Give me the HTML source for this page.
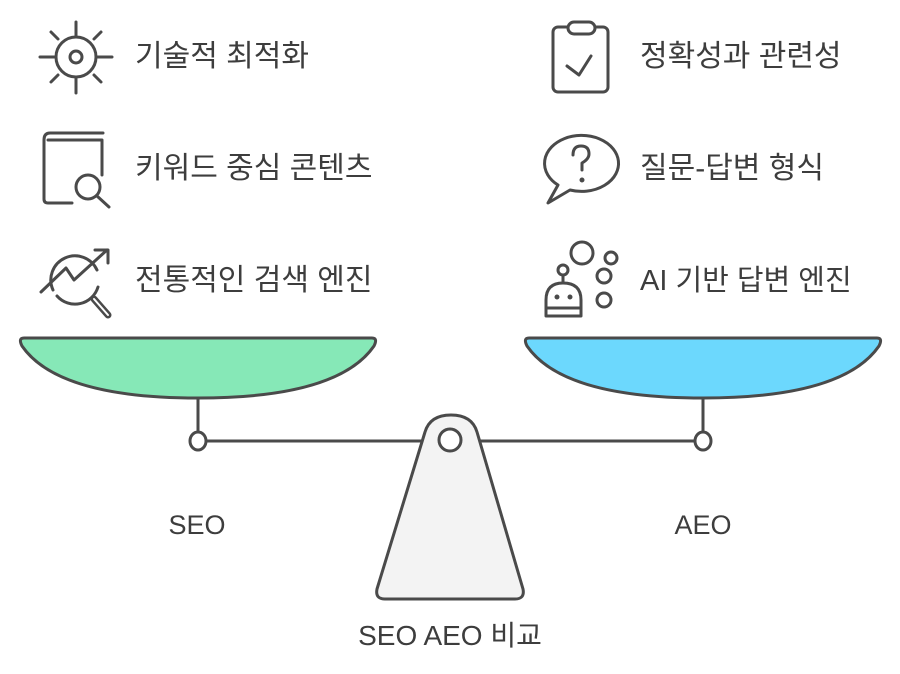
<!DOCTYPE html>
<html><head><meta charset="utf-8"><style>
body{margin:0;background:#fff;width:900px;height:674px;overflow:hidden}
svg{display:block}
text{font-family:"Liberation Sans","Noto Sans CJK KR",sans-serif;fill:#3d3d3d}
</style></head><body>
<svg width="900" height="674" viewBox="0 0 900 674">
<g fill="none" stroke="#4a4a4a" stroke-width="3" stroke-linecap="round" stroke-linejoin="round">
<!-- gear -->
<circle cx="76" cy="57" r="20"/><circle cx="76" cy="57" r="6"/>
<line x1="76" y1="22" x2="76" y2="37"/><line x1="76" y1="77" x2="76" y2="93"/>
<line x1="40" y1="57" x2="56" y2="57"/><line x1="96" y1="57" x2="112" y2="57"/>
<line x1="51" y1="32" x2="58" y2="39"/><line x1="94" y1="75" x2="101" y2="82"/>
<line x1="101" y1="32" x2="94" y2="39"/><line x1="58" y1="75" x2="51" y2="82"/>
<!-- book -->
<path d="M103 133H50Q44 133 44 140V199Q44 203 48 203H72"/>
<path d="M48 140H102V175"/>
<circle cx="88" cy="187" r="12"/><line x1="97" y1="196" x2="109" y2="207"/>
<!-- chart -->
<path d="M53 290A24 24 0 0 1 97 270"/>
<path d="M98 287A24 24 0 0 1 57 296"/>
<path d="M41 292L66 268L74 280L107 250"/><path d="M95 250H108V263"/>
<path d="M94 299L108 315" stroke-width="7"/><path d="M94 299L108 315" stroke="#fff" stroke-width="2"/>
<!-- clipboard -->
<rect x="553" y="27" width="55" height="65" rx="5"/>
<rect x="568" y="22" width="27" height="12" rx="6" fill="#fff"/>
<path d="M567 66L579 75L591 56"/>
<!-- bubble -->
<path d="M558 185L548 203L570 190A37 28 0 1 0 558 185Z" fill="#fff"/>
<path d="M573 155Q573 146 581 146Q589 146 589 154Q589 159 582 163V170"/>
<circle cx="582" cy="180" r="1" fill="#4a4a4a"/>
<!-- robot -->
<circle cx="563" cy="270" r="5"/><line x1="563" y1="275" x2="563" y2="282"/>
<path d="M546 316V300Q546 283 563 283Q581 283 581 300V316Z"/>
<line x1="546" y1="308" x2="581" y2="308"/>
<circle cx="557" cy="297" r="1" fill="#4a4a4a"/><circle cx="570" cy="297" r="1" fill="#4a4a4a"/>
<circle cx="582" cy="253" r="11"/><circle cx="611" cy="258" r="6"/>
<circle cx="604" cy="276" r="7"/><circle cx="604" cy="300" r="7"/>
</g>
<g font-size="30">
<text x="135" y="66">기술적 최적화</text>
<text x="135" y="178">키워드 중심 콘텐츠</text>
<text x="135" y="290">전통적인 검색 엔진</text>
<text x="640" y="66">정확성과 관련성</text>
<text x="640" y="178">질문-답변 형식</text>
<text x="640" y="290" font-size="29">AI 기반 답변 엔진</text>
</g>
<g stroke="#4a4a4a" stroke-width="3" stroke-linejoin="round">
<path d="M24 338H372Q378 338 374 346Q338 398 198 398Q58 398 22 346Q18 338 24 338Z" fill="#86e8b7"/>
<path d="M529 338H877Q883 338 879 346Q843 398 703 398Q563 398 527 346Q523 338 529 338Z" fill="#6cd8fd"/>
<line x1="198" y1="398" x2="198" y2="432"/><line x1="703" y1="398" x2="703" y2="432"/>
<line x1="206" y1="441" x2="426" y2="441"/><line x1="476" y1="441" x2="695" y2="441"/>
<ellipse cx="198" cy="441" rx="8" ry="9" fill="#fff"/><ellipse cx="703" cy="441" rx="8" ry="9" fill="#fff"/>
<path d="M425 432Q430 415 451 415Q472 415 477 432L523 589Q525 599 515 599H385Q375 599 377 589Z" fill="#f3f3f3"/>
<circle cx="450" cy="440" r="11" fill="#fff"/>
</g>
<g font-size="27" text-anchor="middle">
<text x="197" y="534">SEO</text>
<text x="703" y="534">AEO</text>
<text x="450" y="645" font-size="28">SEO AEO 비교</text>
</g>
</svg>
</body></html>
